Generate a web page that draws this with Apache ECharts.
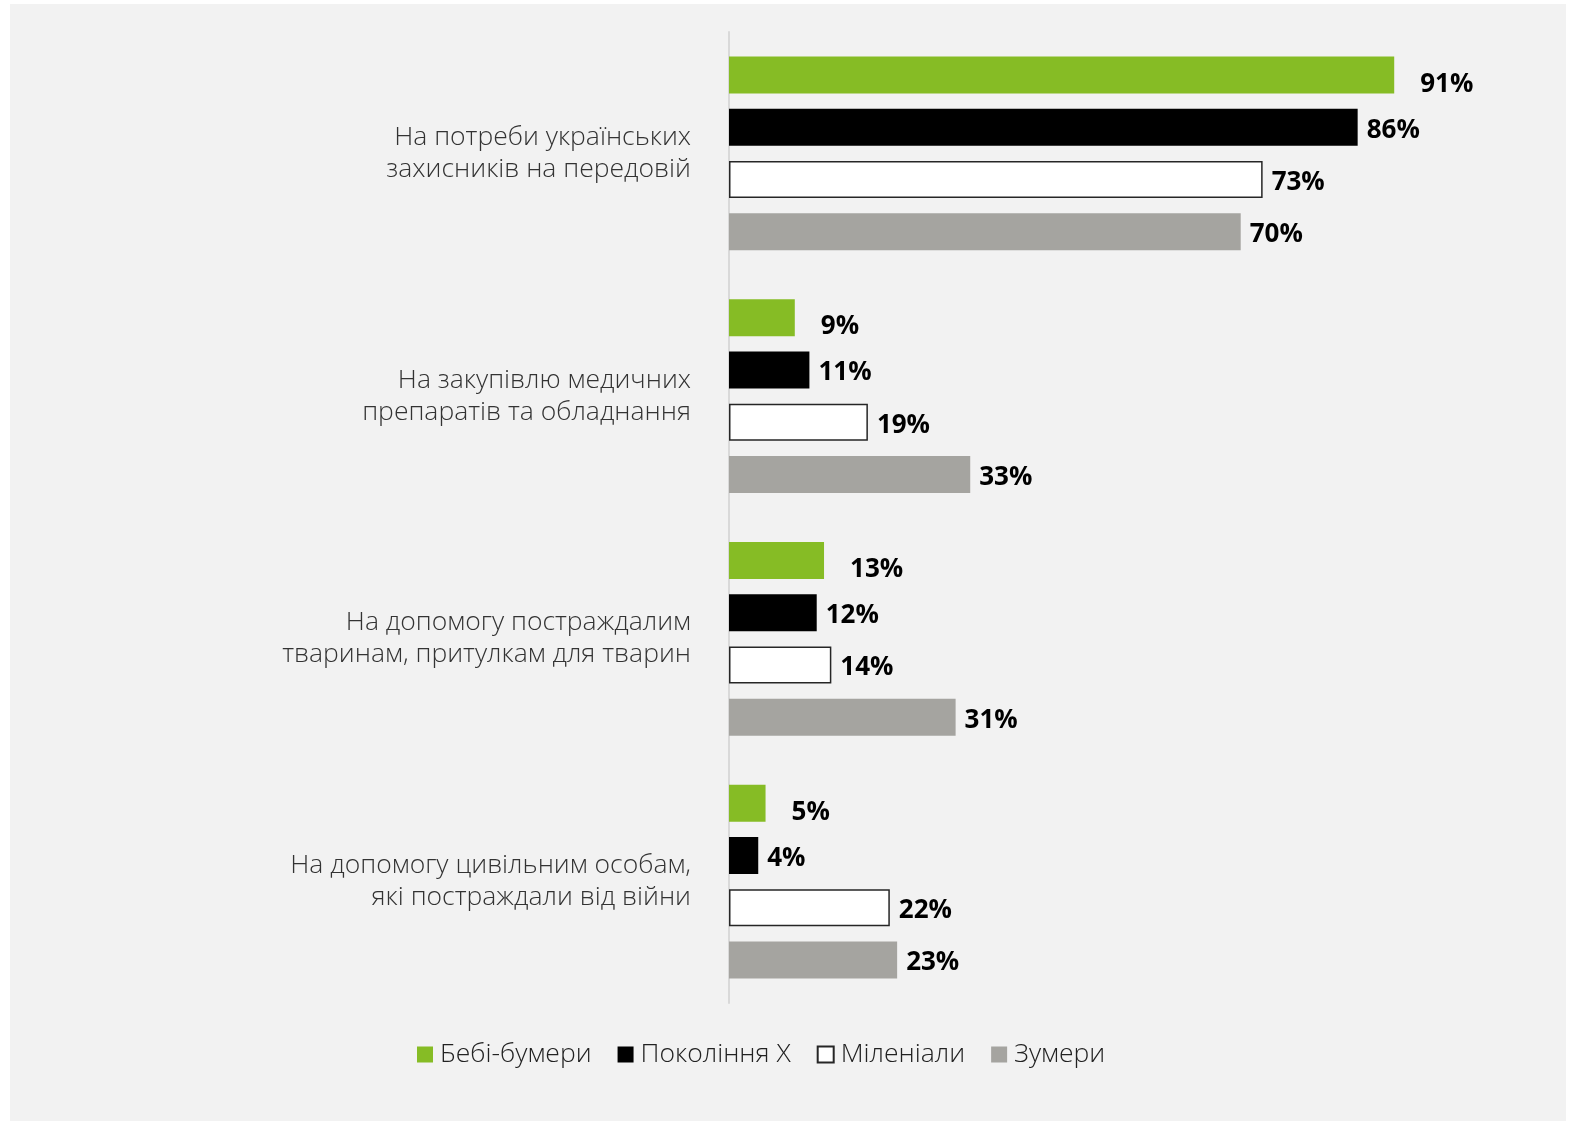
<!DOCTYPE html>
<html>
<head>
<meta charset="utf-8">
<script src="https://cdn.jsdelivr.net/npm/echarts@6/dist/echarts.min.js"></script>
<style>
  html, body { margin: 0; padding: 0; background: #ffffff; }
  #chart { width: 1581px; height: 1121px; }
</style>
</head>
<body>
<div id="chart"></div>
<script>
// Donation purposes by generation, share of respondents (%)
const categories = [
  'На потреби українських\nзахисників на передовій',
  'На закупівлю медичних\nпрепаратів та обладнання',
  'На допомогу постраждалим\nтваринам, притулкам для тварин',
  'На допомогу цивільним особам,\nякі постраждали від війни'
];
const seriesNames = ['Бебі-бумери', 'Покоління Х', 'Міленіали', 'Зумери'];
const babyBoomers = [91, 9, 13, 5];
const genX = [86, 11, 12, 4];
const millennials = [73, 19, 14, 22];
const zoomers = [70, 33, 31, 23];

const FONT = '"Open Sans", "Noto Sans", sans-serif';

const chart = echarts.init(document.getElementById('chart'), null, { renderer: 'canvas' });

function barSeries(name, data, fill, border, labelDistance, labelOffset) {
  return {
    name: name,
    type: 'bar',
    data: data,
    barWidth: 37,
    barGap: '41%',
    itemStyle: { color: fill, borderColor: border, borderWidth: border ? 1.5 : 0 },
    label: {
      show: true,
      position: 'right',
      distance: labelDistance,
      offset: labelOffset,
      formatter: '{c}%',
      color: '#000000',
      fontFamily: FONT,
      fontWeight: 'bold',
      fontSize: 26
    },
    emphasis: { disabled: true },
    animation: false
  };
}

chart.setOption({
  backgroundColor: '#ffffff',
  graphic: [{
    type: 'rect',
    z: -10,
    silent: true,
    shape: { x: 10, y: 4, width: 1556, height: 1117 },
    style: { fill: '#f2f2f2' }
  }],
  grid: { left: 729, top: 32, width: 731, height: 971, containLabel: false },
  xAxis: {
    type: 'value',
    min: 0,
    max: 100,
    show: false
  },
  yAxis: {
    type: 'category',
    data: categories,
    inverse: true,
    axisLine: { show: true, lineStyle: { color: '#d9d9d9', width: 2 } },
    axisTick: { show: false },
    splitLine: { show: false },
    axisLabel: {
      margin: 38,
      color: '#333333',
      fontFamily: FONT,
      fontWeight: 300,
      fontSize: 26.5,
      lineHeight: 32,
      align: 'right'
    }
  },
  legend: {
    left: 412,
    top: 1036,
    itemWidth: 16,
    itemHeight: 16,
    itemGap: 26,
    icon: 'rect',
    textStyle: {
      color: '#222222',
      fontFamily: FONT,
      fontWeight: 300,
      fontSize: 26.5,
      padding: [0, 0, 0, 2]
    },
    data: seriesNames
  },
  series: [
    barSeries(seriesNames[0], babyBoomers, '#86bc25', null, 26, [0, 9]),
    barSeries(seriesNames[1], genX, '#000000', null, 9, [0, 3]),
    barSeries(seriesNames[2], millennials, '#ffffff', '#262626', 9, [0, 3]),
    barSeries(seriesNames[3], zoomers, '#a5a4a0', null, 9, [0, 3])
  ]
});
</script>
</body>
</html>
